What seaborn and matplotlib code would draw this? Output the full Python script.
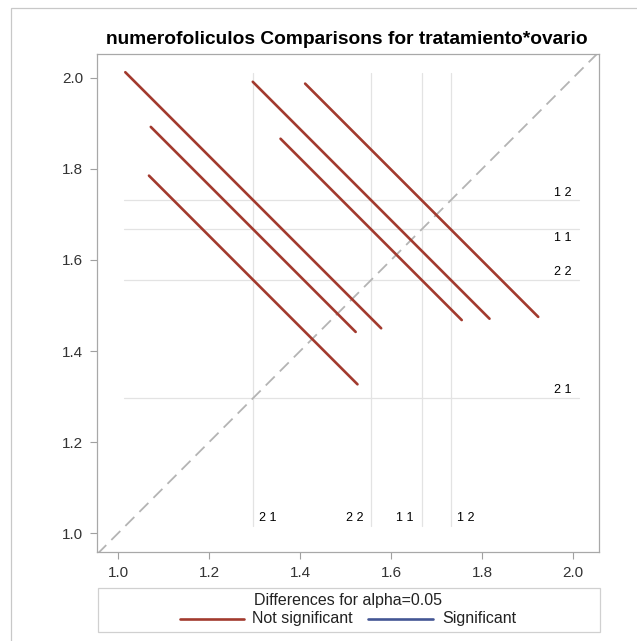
import matplotlib
matplotlib.use("Agg")
import matplotlib.pyplot as plt
import seaborn as sns
import pandas as pd
from matplotlib.lines import Line2D
from matplotlib.patches import Rectangle

# ---- data ----
levels = ["1 1", "1 2", "2 1", "2 2"]
lsmeans = [1.667, 1.731, 1.297, 1.556]
pair_x = ["2 1", "2 1", "2 1", "2 2", "2 2", "1 1"]
pair_y = ["1 2", "1 1", "2 2", "1 2", "1 1", "1 2"]
pair_half = [0.281, 0.225, 0.229, 0.260, 0.199, 0.256]
pair_sig = ["Not significant"] * 6
hlabel_y = [1.649, 1.748, 1.314, 1.574]   # right-side label positions (y)
vlabel_x = [1.630, 1.764, 1.329, 1.520]   # bottom label positions (x)
title = "numerofoliculos Comparisons for tratamiento*ovario"

mean_of = dict(zip(levels, lsmeans))

rows = []
for k, (a, b, h, s) in enumerate(zip(pair_x, pair_y, pair_half, pair_sig)):
    xm, ym = mean_of[a], mean_of[b]
    rows.append(dict(pair=k, x=xm - h, y=ym + h, sig=s))
    rows.append(dict(pair=k, x=xm + h, y=ym - h, sig=s))
df = pd.DataFrame(rows)

sns.set_theme(style="white")
plt.rcParams["font.family"] = ["Liberation Sans", "DejaVu Sans"]

RED = "#A23A2E"
BLUE = "#445694"
REF = "#e3e3e3"

fig = plt.figure(figsize=(6.37, 6.41), dpi=100)
ax = fig.add_axes([97.3 / 637, 1 - 551.7 / 641, (599 - 97.3) / 637, (551.7 - 54) / 641])

xlim = (0.9545, 2.0565)
ylim = (0.9596, 2.052)

# reference lines
for lv, m in zip(levels, lsmeans):
    ax.plot([m, m], [1.016, 2.011], color=REF, lw=0.9, zorder=1)
    ax.plot([1.014, 2.0125], [m, m], color=REF, lw=0.9, zorder=1)

# diagonal
ax.plot([xlim[0], xlim[1]], [xlim[0], xlim[1]], color="#b4b4b4", lw=1.3,
        dashes=(7, 4), zorder=2)

sns.lineplot(data=df, x="x", y="y", units="pair", estimator=None, sort=False,
             hue="sig", palette={"Not significant": RED, "Significant": BLUE},
             lw=1.9, legend=False, ax=ax, zorder=3)

for lv, yy in zip(levels, hlabel_y):
    ax.text(1.996, yy, lv, ha="right", va="center", fontsize=9, color="black")
for lv, xx in zip(levels, vlabel_x):
    ax.text(xx, 1.033, lv, ha="center", va="center", fontsize=9, color="black")

ax.set_xlim(*xlim)
ax.set_ylim(*ylim)
ticks = [1.0, 1.2, 1.4, 1.6, 1.8, 2.0]
ax.set_xticks(ticks)
ax.set_yticks(ticks)
ax.set_xticklabels([f"{t:.1f}" for t in ticks])
ax.set_yticklabels([f"{t:.1f}" for t in ticks])
ax.set_xlabel("")
ax.set_ylabel("")
ax.tick_params(axis="both", which="both", direction="out", length=5, width=0.8,
               color="#a0a0a0", labelsize=11, labelcolor="#333333", pad=5,
               bottom=True, left=True)
for sp in ax.spines.values():
    sp.set_color("#a8a8a8")
    sp.set_linewidth(0.9)

fig.text(347 / 637, 1 - 44 / 641, title, ha="center", va="baseline",
         fontsize=13.8, fontweight="bold", color="black")

# outer border
fig.add_artist(Rectangle((11 / 637, -0.01), 1.0, 1 - 8.3 / 641 + 0.01,
                         transform=fig.transFigure, fill=False,
                         edgecolor="#c8c8c8", lw=0.9))

# legend box
fig.add_artist(Rectangle((98 / 637, 1 - 632 / 641), (600 - 98) / 637, (632 - 588) / 641,
                         transform=fig.transFigure, fill=False,
                         edgecolor="#d0d0d0", lw=0.9))
fig.text(348 / 637, 1 - 600 / 641, "Differences for alpha=0.05", ha="center",
         va="center", fontsize=11.5, color="#222222")
ly = 1 - 619 / 641
fig.add_artist(Line2D([180 / 637, 244 / 637], [ly, ly], color=RED, lw=1.9,
                      transform=fig.transFigure))
fig.text(252 / 637, ly, "Not significant", ha="left", va="center", fontsize=11.5,
         color="#222222")
fig.add_artist(Line2D([368 / 637, 433 / 637], [ly, ly], color=BLUE, lw=1.9,
                      transform=fig.transFigure))
fig.text(442 / 637, ly, "Significant", ha="left", va="center", fontsize=11.5,
         color="#222222")

fig.savefig("out.png", dpi=100, facecolor="white")
